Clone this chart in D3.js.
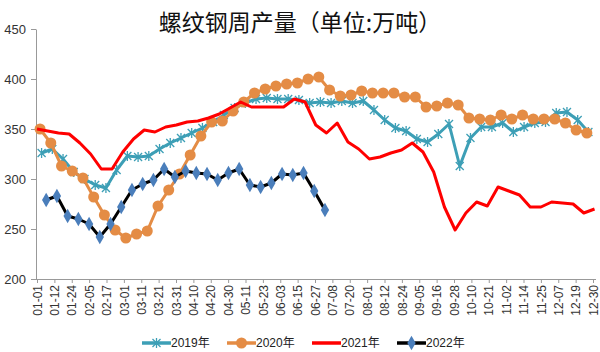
<!DOCTYPE html>
<html>
<head>
<meta charset="utf-8">
<script src="https://cdn.jsdelivr.net/npm/d3@7"></script>
<style>
  body { margin: 0; background: #fff; }
  svg { font-family: "Liberation Sans", "Noto Sans CJK SC", sans-serif; }
</style>
</head>
<body>
<div id="chart"></div>
<script>
// tick labels on the x axis (category axis, evenly spaced)
const xLabels = ["01-01","01-12","01-24","02-05","02-17","03-01","03-11","03-21","03-31",
  "04-10","04-20","04-30","05-11","05-23","06-03","06-15","06-27","07-08","07-20","08-01",
  "08-12","08-24","09-05","09-16","09-28","10-10","10-21","11-02","11-14","11-25","12-07",
  "12-19","12-30"];
const yTicks = [200, 250, 300, 350, 400, 450];

// weekly output, one reading every Friday; day-of-year of first reading
const seriesNames = ["2019年", "2020年", "2021年", "2022年"];
const firstDay = [3, 2, 0, 6];

const v2019 = [326,330,320,307,300,294,291,309,323,322,323,330,336,341,346,351,357,364,371,376,
  380,381,380,380,379,376,377,376,378,376,378,369,359,351,348,340,337,345,355,313,
  341,352,352,356,347,352,356,357,366,367,359,347];
const v2020 = [350,336,313,308,301,282,264,249,241,245,248,273,289,305,324,343,357,358,368,377,
  386,390,393,395,396,400,402,389,383,384,388,386,386,386,382,382,372,373,376,374,
  361,360,359,364,360,364,360,360,360,356,349,346];
const v2021 = [350,348,346,345,336,325,310,310,327,340,349,347,352,354,357,358,361,365,371,377,
  372,372,372,372,380,377,354,346,356,337,330,320,322,326,329,336,327,307,272,249,
  266,277,273,292,288,284,272,272,277,276,275,266,270];
const v2022 = [279,283,263,260,255,242,255,272,289,295,299,310,302,308,306,305,299,306,310,294,
  292,296,305,304,306,288,269];

const values = [v2019, v2020, v2021, v2022];
const colors = ["#3d9fb6", "#e48c45", "#ff0000", "#000000"];
const markers = ["star", "circle", "none", "diamond"];

const width = 600, height = 352;

const svg = d3.select("#chart")
  .append("svg")
    .attr("width", width)
    .attr("height", height);

// title
svg.append("text")
  .attr("x", 300)
  .attr("y", 31)
  .attr("text-anchor", "middle")
  .style("font-family", "'Noto Sans CJK SC'")
  .style("font-size", "23px")
  .attr("fill", "#111")
  .text("螺纹钢周产量（单位:万吨）");

// scales
const xCat = d3.scalePoint().domain(xLabels).range([37, 593]);
const xDay = d3.scaleLinear().domain([0, 363]).range([37, 593]);
const y = d3.scaleLinear().domain([200, 450]).range([279, 29]);

// Y axis
const yAxis = svg.append("g")
  .attr("transform", "translate(36,0)")
  .call(d3.axisLeft(y).tickValues(yTicks).tickSize(5).tickSizeOuter(0));
yAxis.select(".domain").attr("stroke", "#999");
yAxis.selectAll(".tick line").attr("stroke", "#999");
yAxis.selectAll(".tick text")
  .attr("x", -10)
  .attr("fill", "#333")
  .style("font-size", "13px")
  .style("font-family", "'Liberation Sans'");

// X axis
const xAxis = svg.append("g")
  .attr("transform", "translate(0,279)")
  .call(d3.axisBottom(xCat).tickSize(4).tickSizeOuter(0));
xAxis.select(".domain").attr("stroke", "#999").attr("d", "M36,0.5H596");
xAxis.selectAll(".tick line").attr("stroke", "#999");
xAxis.selectAll(".tick text")
  .attr("transform", "rotate(-90)")
  .attr("text-anchor", "end")
  .attr("x", -6)
  .attr("y", 0)
  .attr("dy", "0.35em")
  .attr("fill", "#333")
  .style("font-size", "12px")
  .style("font-family", "'Liberation Sans'");

// markers
function drawMarker(g, type, color) {
  if (type === "star") {
    g.append("path")
      .attr("d", "M-4,-4L4,4M-4,4L4,-4M0,-5L0,5")
      .attr("stroke", color)
      .attr("stroke-width", 1.3)
      .attr("fill", "none");
  } else if (type === "circle") {
    g.append("circle").attr("r", 5.5).attr("fill", color);
  } else if (type === "diamond") {
    g.append("path")
      .attr("d", d3.symbol(d3.symbolDiamond, 60)())
      .attr("fill", "#4a7ebb");
  }
}

const line = d3.line()
  .x(d => xDay(d.day))
  .y(d => y(d.v));

values.forEach((vals, s) => {
  const pts = vals.map((v, i) => ({ day: firstDay[s] + 7 * i, v: v }));
  const g = svg.append("g");
  g.append("path")
    .datum(pts)
    .attr("fill", "none")
    .attr("stroke", colors[s])
    .attr("stroke-width", 3)
    .attr("stroke-linejoin", "round")
    .attr("d", line);
  if (markers[s] !== "none") {
    g.selectAll("g.m")
      .data(pts)
      .join("g")
        .attr("class", "m")
        .attr("transform", d => `translate(${xDay(d.day)},${y(d.v)})`)
        .each(function() { drawMarker(d3.select(this), markers[s], colors[s]); });
  }
});

// legend
const legend = svg.append("g")
  .attr("transform", "translate(142,343)");

seriesNames.forEach((name, i) => {
  const item = legend.append("g").attr("transform", `translate(${i * 85},0)`);
  item.append("line")
    .attr("x1", 0).attr("x2", 29)
    .attr("y1", 0).attr("y2", 0)
    .attr("stroke", colors[i])
    .attr("stroke-width", 3.5);
  if (markers[i] !== "none") {
    const m = item.append("g").attr("transform", "translate(14.5,0)");
    drawMarker(m, markers[i], colors[i]);
  }
  item.append("text")
    .attr("x", 29)
    .attr("y", 0)
    .attr("dy", "0.35em")
    .attr("fill", "#222")
    .style("font-size", "12px")
    .text(name);
});
</script>
</body>
</html>
